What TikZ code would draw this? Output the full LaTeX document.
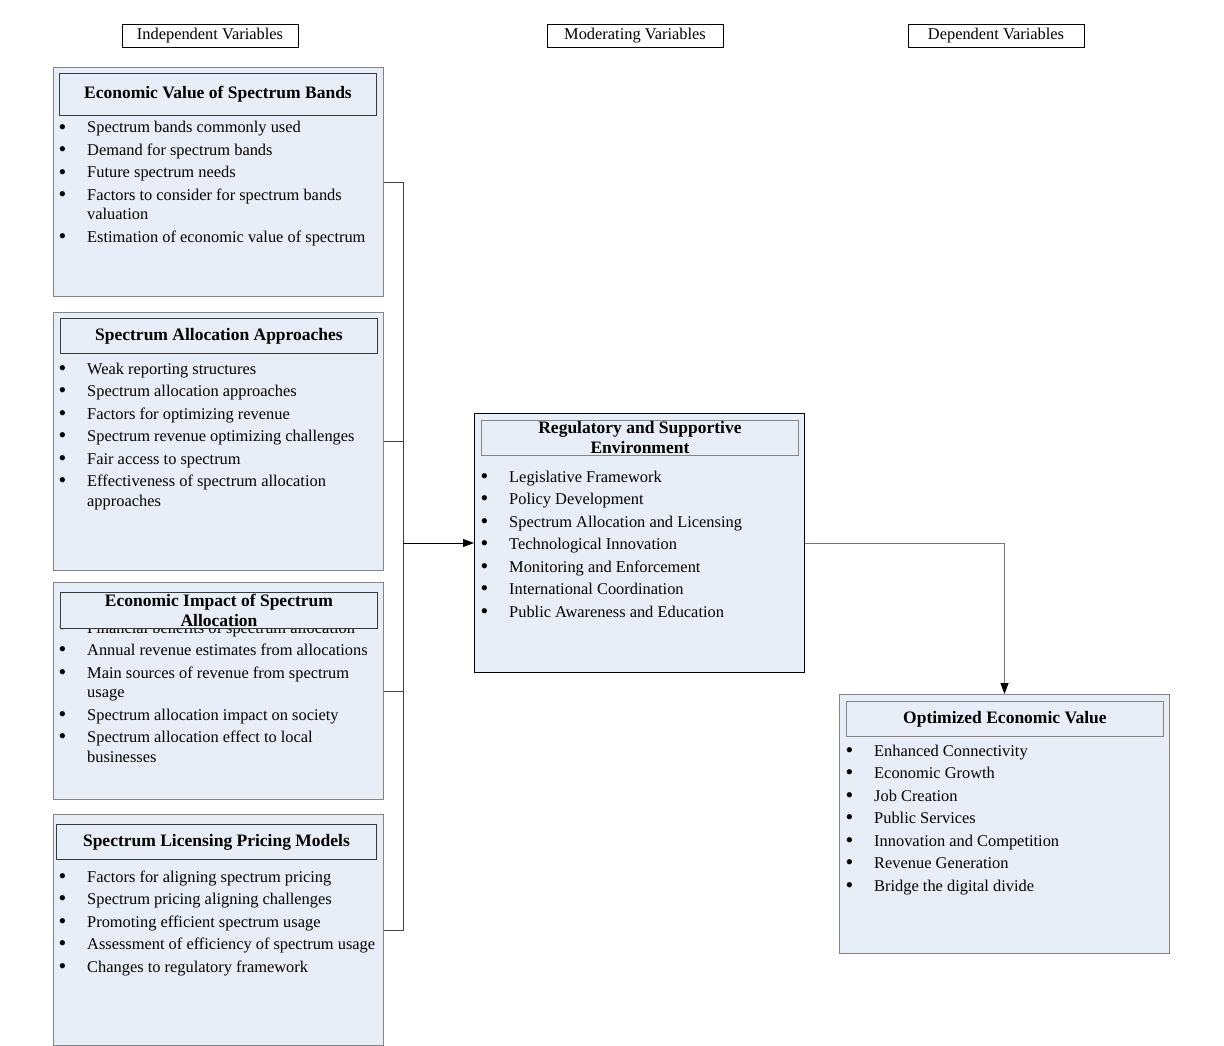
\documentclass[tikz,border=0pt]{standalone}
\usepackage{fontspec}
\setmainfont{Liberation Serif}
\usepackage{tikz}
\usetikzlibrary{positioning, arrows.meta}
\definecolor{boxfill}{HTML}{E8EEF8}
\definecolor{boxline}{HTML}{858585}
\definecolor{titleline}{HTML}{3A3A3A}
\newcommand{\itemfont}{\fontsize{16.4}{19.5}\selectfont}
\newcommand{\titlefont}{\fontsize{17.5}{20}\selectfont\bfseries}
\newcommand{\bl}{\hspace*{-0.5pt}\raisebox{-1.3pt}{\fontsize{22}{22}\selectfont\textbullet}}

\begin{document}
\begin{tikzpicture}[x=1pt, y=-1pt,
    outerbox/.style={draw=boxline, line width=1pt, fill=boxfill, minimum width=330pt, anchor=north west, inner sep=0pt},
    titlebox/.style={draw=titleline, line width=0.9pt, fill=boxfill, minimum width=317pt, anchor=north west, inner sep=0pt, align=center, font=\titlefont},
    headbox/.style={draw=black, line width=0.9pt, minimum width=176pt, minimum height=23pt, inner sep=0pt, font=\itemfont},
    itemlist/.style={anchor=base west, inner sep=0pt, font=\itemfont},
    link/.style={line width=0.9pt},
    tip/.style={-{Triangle[length=11pt, width=8pt, black]}}]
    \useasboundingbox (0,0) rectangle (1224,1046);
    % Column headings
    \node[headbox] (indep) at (210,35.5) {Independent Variables};
    \node[headbox] (moder) at (635,35.5) {Moderating Variables};
    \node[headbox] (depen) at (996,35.5) {Dependent Variables};
    % Economic value of spectrum bands
    \node[outerbox, minimum height=229pt] (evsb) at (53,67) {};
    \node[titlebox, minimum height=42pt] (evsbt) at (59,73) {Economic Value of Spectrum Bands};
    \node[itemlist] (evsbl) at (59,133) {\begin{tabular}[t]{@{}p{28pt}@{}l@{}}
        \bl & Spectrum bands commonly used\\[3pt]
        \bl & Demand for spectrum bands\\[3pt]
        \bl & Future spectrum needs\\[3pt]
        \bl & Factors to consider for spectrum bands\\
            & valuation\\[3pt]
        \bl & Estimation of economic value of spectrum
    \end{tabular}};
    % Spectrum allocation approaches
    \node[outerbox, minimum height=258pt] (saa) at (53,312) {};
    \node[titlebox, minimum height=35pt] (saat) at (60,318) {Spectrum Allocation Approaches};
    \node[itemlist] (saal) at (59,374) {\begin{tabular}[t]{@{}p{28pt}@{}l@{}}
        \bl & Weak reporting structures\\[3pt]
        \bl & Spectrum allocation approaches\\[3pt]
        \bl & Factors for optimizing revenue\\[3pt]
        \bl & Spectrum revenue optimizing challenges\\[3pt]
        \bl & Fair access to spectrum\\[3pt]
        \bl & Effectiveness of spectrum allocation\\
            & approaches
    \end{tabular}};
    % Economic impact of spectrum allocation
    \node[outerbox, minimum height=217pt] (eisa) at (53,582) {};
    \node[itemlist] (eisal) at (59,633) {\begin{tabular}[t]{@{}p{28pt}@{}l@{}}
        \bl & Financial benefits of spectrum allocation\\[3pt]
        \bl & Annual revenue estimates from allocations\\[3pt]
        \bl & Main sources of revenue from spectrum\\
            & usage\\[3pt]
        \bl & Spectrum allocation impact on society\\[3pt]
        \bl & Spectrum allocation effect to local\\
            & businesses
    \end{tabular}};
    \node[titlebox, minimum height=36pt] (eisat) at (60,592) {Economic Impact of Spectrum\\Allocation};
    % Spectrum licensing pricing models
    \node[outerbox, minimum height=231pt] (slpm) at (53,814) {};
    \node[titlebox, minimum height=35pt, minimum width=320pt] (slpmt) at (56,824) {Spectrum Licensing Pricing Models};
    \node[itemlist] (slpml) at (59,882) {\begin{tabular}[t]{@{}p{28pt}@{}l@{}}
        \bl & Factors for aligning spectrum pricing\\[3pt]
        \bl & Spectrum pricing aligning challenges\\[3pt]
        \bl & Promoting efficient spectrum usage\\[3pt]
        \bl & Assessment of efficiency of spectrum usage\\[3pt]
        \bl & Changes to regulatory framework
    \end{tabular}};
    % Regulatory and supportive environment
    \node[outerbox, draw=black, minimum height=259pt] (rse) at (474,413) {};
    \node[titlebox, draw=boxline, minimum height=35pt] (rset) at (481,420) {Regulatory and Supportive\\Environment};
    \node[itemlist] (rsel) at (481,482) {\begin{tabular}[t]{@{}p{28pt}@{}l@{}}
        \bl & Legislative Framework\\[3pt]
        \bl & Policy Development\\[3pt]
        \bl & Spectrum Allocation and Licensing\\[3pt]
        \bl & Technological Innovation\\[3pt]
        \bl & Monitoring and Enforcement\\[3pt]
        \bl & International Coordination\\[3pt]
        \bl & Public Awareness and Education
    \end{tabular}};
    % Optimized economic value
    \node[outerbox, minimum height=259pt] (oev) at (839,694) {};
    \node[titlebox, draw=boxline, minimum height=35pt] (oevt) at (846,701) {Optimized Economic Value};
    \node[itemlist] (oevl) at (846,756) {\begin{tabular}[t]{@{}p{28pt}@{}l@{}}
        \bl & Enhanced Connectivity\\[3pt]
        \bl & Economic Growth\\[3pt]
        \bl & Job Creation\\[3pt]
        \bl & Public Services\\[3pt]
        \bl & Innovation and Competition\\[3pt]
        \bl & Revenue Generation\\[3pt]
        \bl & Bridge the digital divide
    \end{tabular}};
    % Connectors
    \coordinate (bus) at (403,543);
    \draw[link, draw=black!75] (evsb.east) -- (evsb.east -| bus) -- (slpm.east -| bus) -- (slpm.east);
    \draw[link, draw=black!75] (saa.east) -- (saa.east -| bus);
    \draw[link, draw=black!75] (eisa.east) -- (eisa.east -| bus);
    \draw[link, tip] (bus) -- (rse.west);
    \draw[link, draw=black!55, tip] (rse.east) -| (oev.north);
\end{tikzpicture}
\end{document}
